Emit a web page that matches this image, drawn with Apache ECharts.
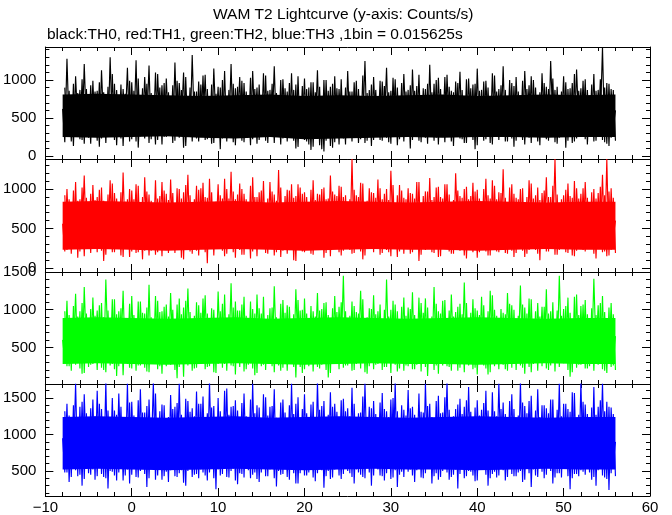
<!DOCTYPE html>
<html>
<head>
<meta charset="utf-8">
<script src="https://cdn.jsdelivr.net/npm/echarts@6/dist/echarts.min.js"></script>
<style>html,body{margin:0;padding:0;background:#fff}#c{width:672px;height:515px}</style>
</head>
<body>
<div id="c"></div>
<script>
// Spike envelope A: one value every 0.25 s starting at -8 s (alternating local max / local min)
const T_START = -8;
const T_STEP = 0.25;
// Spike envelope B: same spacing, starting at -7.75 s (interleaves with A)
const T_START_B = -7.75;
// Dense core of each lightcurve: one value every 4 s starting at -8 s
const CORE_STEP = 4;

const TH0 = [
620,180,1280,350,760,130,1050,420,870,210,1210,380,700,160,990,280,
860,120,1130,400,720,250,1300,310,950,140,780,230,880,450,1160,190,
970,330,1260,110,740,280,1040,410,1190,220,690,150,1080,360,930,250,
1020,400,790,170,1230,290,960,440,1100,130,750,270,1330,340,850,190,
940,380,1070,220,710,160,1150,420,910,90,1000,280,770,330,1210,180,
890,430,1040,200,960,300,730,140,1120,390,900,210,680,290,1060,170,
870,360,1180,280,750,150,1010,410,850,240,1090,200,940,120,790,380,
1020,190,900,80,970,350,1130,140,760,60,1000,300,910,110,1050,240,
880,410,760,150,1120,340,850,290,990,170,720,390,1250,200,870,130,
1040,360,740,210,980,430,1160,180,860,340,1010,140,700,280,1080,400,
870,100,1140,360,920,200,780,420,880,160,1200,310,950,240,1030,380,
760,180,1070,350,860,130,980,420,1110,220,730,170,1020,390,940,90,
1150,340,870,200,990,410,720,150,1060,300,880,270,1180,190,770,400,
960,120,1040,360,710,210,1120,420,930,170,1000,330,780,140,1090,380,
910,200,1250,430,870,160,750,370,1050,110,880,350,960,190,1140,410,
890,300,1010,150,740,360,1080,200,870,440,1430,180,960,130,880,360,
600];
const TH0_B = [
900,250,860,190,950,270,830,220,1010,160,880,240,930,280,850,200,
970,230,840,170,910,260,1080,210,870,250,940,130,820,280,990,220,
860,190,1020,260,890,230,950,170,830,280,1100,210,900,150,960,250,
840,270,930,200,990,240,870,110,1040,260,900,190,850,230,980,280,
1060,210,880,250,940,170,820,280,900,230,1120,190,870,260,950,140,
910,240,990,180,850,270,1030,220,880,160,940,250,1090,200,860,280,
950,170,830,260,1000,230,890,190,960,280,870,100,1050,240,920,210,
880,150,970,120,840,240,910,90,1000,200,860,130,950,180,890,150,
1010,230,900,260,850,190,970,280,880,220,1060,170,830,250,940,210,
870,280,990,200,920,240,840,160,1030,270,900,220,960,190,850,250,
930,210,860,270,1070,180,890,240,950,290,840,200,1000,150,880,260,
1040,250,910,190,840,280,960,230,870,170,1010,260,890,210,950,140,
860,280,980,220,900,170,1090,250,850,210,930,270,870,190,1000,230,
920,200,850,260,990,150,880,240,1050,280,900,190,840,250,960,220,
880,260,1020,180,910,240,850,290,970,200,890,170,1080,230,860,270,
990,220,870,250,940,190,860,270,1010,210,900,160,950,240,870,200];

const TH1 = [
560,210,1000,350,760,280,1090,130,870,420,1170,260,700,190,1050,380,
900,240,1020,90,740,370,1110,200,950,410,780,160,1210,330,870,140,
980,400,1060,200,720,110,1150,380,930,220,800,170,880,350,1090,300,
940,190,1120,360,750,230,1000,130,960,390,1180,210,690,420,1040,160,
1010,380,900,60,1130,240,770,410,1060,300,880,150,1000,360,1220,200,
870,330,1070,170,940,400,760,120,1150,250,900,430,980,280,730,180,
1090,360,930,200,1240,140,780,370,990,230,1060,100,910,390,1020,210,
960,350,740,180,1110,300,940,420,1000,130,870,260,1170,400,930,240,
1040,160,900,380,780,230,1380,190,920,410,1080,110,720,270,1010,360,
950,300,1120,170,870,340,1000,200,1230,430,760,140,1050,290,890,380,
1010,180,940,360,1090,90,730,400,970,300,1140,200,900,420,1030,150,
880,370,1060,210,750,180,1200,390,910,240,1000,120,870,410,1080,230,
990,200,780,380,1130,160,880,420,1040,210,960,300,1250,190,740,350,
1060,140,890,370,1000,220,760,180,1110,410,880,230,1020,100,950,390,
1150,210,900,350,1380,170,770,400,920,200,1070,340,890,150,1010,420,
940,230,1090,390,730,270,1000,120,950,350,1180,210,1380,160,1010,380,
600];
const TH1_B = [
920,230,870,180,980,260,850,210,1020,150,890,240,940,270,860,200,
990,220,850,170,930,250,1070,200,880,240,960,140,840,270,1000,210,
870,190,1040,250,900,220,970,160,850,270,1110,200,910,150,980,240,
860,260,950,190,1010,230,880,110,1050,250,920,180,870,220,990,270,
1080,200,890,240,960,160,840,270,920,220,1130,180,880,250,970,130,
930,230,1000,170,870,260,1040,210,900,150,960,240,1100,190,880,270,
970,160,850,250,1020,220,910,180,980,270,890,90,1060,230,940,200,
900,240,990,170,860,230,930,260,1020,190,880,150,970,270,910,200,
1030,220,920,250,870,180,990,270,900,210,1070,160,850,240,960,200,
890,270,1010,190,940,230,860,150,1050,260,920,210,980,180,870,240,
950,200,880,260,1090,170,910,230,970,280,860,190,1020,140,900,250,
1060,240,930,180,860,270,980,220,890,160,1030,250,910,200,970,130,
880,270,1000,210,920,160,1110,240,870,200,950,260,890,180,1020,220,
940,190,870,250,1010,140,900,230,1070,270,920,180,860,240,980,210,
900,250,1040,170,930,230,870,280,990,190,910,160,1100,220,880,260,
1010,210,890,240,960,180,880,260,1030,200,920,150,970,230,890,190];

const TH2 = [
600,330,1120,250,800,420,1210,290,980,150,1300,450,820,270,1160,400,
990,310,1090,200,1400,460,790,280,1140,120,980,440,1250,300,830,230,
1180,370,810,260,1110,440,950,180,1330,300,760,390,1120,250,980,420,
1070,280,1220,450,800,90,1150,310,1030,400,1280,380,840,220,1100,340,
960,430,1190,240,820,370,1000,160,1240,450,1080,280,780,390,1350,250,
1110,320,990,410,1170,210,800,290,1010,130,1200,440,950,270,830,380,
1020,250,1310,430,780,190,1130,370,1060,300,820,240,1270,450,990,160,
1150,340,810,280,980,440,1220,220,1010,410,1100,100,790,350,1180,290,
1040,430,1450,260,800,380,1110,200,970,440,1250,290,830,150,1020,360,
1190,270,980,430,810,240,1400,380,1000,300,1070,180,770,450,1160,260,
1030,340,1230,210,820,370,1090,440,1150,120,800,330,1300,260,980,420,
1120,300,790,240,1200,450,970,190,1080,330,1360,280,810,360,1140,230,
990,370,1170,260,830,140,1250,420,1000,290,780,380,960,210,1220,440,
1060,280,810,450,1320,230,1030,300,1150,170,800,360,1090,410,1040,330,
1270,200,980,380,820,290,1450,440,1010,350,1160,110,790,320,1200,270,
1050,340,1130,220,800,370,1410,450,1060,300,1180,190,820,350,1090,260,
650];
const TH2_B = [
980,250,930,190,1050,270,910,220,1090,160,950,240,1010,280,920,200,
1060,230,900,170,990,260,1140,210,940,250,1020,130,890,280,1080,220,
930,190,1110,260,960,230,1030,170,900,280,1180,210,970,150,1040,250,
910,270,1000,200,1070,240,940,110,1120,260,970,190,920,230,1060,280,
1150,210,950,250,1020,170,890,280,980,230,1200,190,940,260,1030,140,
990,240,1070,180,920,270,1110,220,950,160,1020,250,1170,200,930,280,
1030,170,900,260,1080,230,960,190,1040,280,940,100,1130,240,1000,210,
950,250,1050,180,910,240,990,270,1090,200,930,160,1020,280,970,210,
1100,230,980,260,920,190,1050,280,950,220,1140,170,900,250,1010,210,
940,280,1070,200,1000,240,910,160,1120,270,980,220,1040,190,920,250,
1010,210,930,270,1160,180,960,240,1030,290,910,200,1080,150,950,260,
1130,250,990,190,910,280,1040,230,940,170,1090,260,960,210,1020,140,
930,280,1060,220,980,170,1190,250,920,210,1010,270,940,190,1080,230,
1000,200,920,260,1070,150,950,240,1140,280,980,190,910,250,1040,220,
950,260,1100,180,990,240,920,290,1050,200,960,170,1170,230,930,270,
1070,220,940,250,1020,190,930,270,1090,210,970,160,1030,240,940,200];

const TH3 = [
950,480,1420,350,1150,620,1700,430,1380,300,1550,600,1120,450,1480,380,
1600,610,1350,420,1720,260,1160,490,1330,370,1560,630,1100,440,1700,330,
1450,600,1140,410,1620,540,1300,280,1480,640,1720,380,1170,520,1410,430,
1120,350,1540,620,1380,420,1700,510,1150,300,1460,600,1360,450,1590,400,
1420,480,1130,370,1720,620,1390,250,1500,440,1160,600,1630,410,1380,530,
1470,320,1150,460,1560,610,1100,400,1700,480,1400,350,1130,640,1510,430,
1380,600,1620,290,1140,450,1480,620,1170,380,1700,470,1420,330,1160,610,
1550,440,1120,520,1450,360,1720,600,1390,270,1150,500,1580,410,1420,630,
1130,390,1490,610,1360,470,1640,330,1170,480,1300,420,1700,620,1380,300,
1460,600,1150,440,1570,370,1320,630,1480,410,1720,280,1140,490,1340,610,
1610,520,1380,350,1160,600,1310,400,1700,620,1420,330,1130,470,1530,420,
1300,600,1720,380,1150,450,1350,260,1490,620,1380,430,1650,490,1120,360,
1470,610,1340,530,1600,300,1170,460,1320,410,1700,600,1440,370,1140,620,
1550,430,1160,480,1720,350,1390,610,1460,280,1130,440,1620,600,1400,400,
1360,620,1480,330,1150,470,1700,410,1420,600,1350,250,1580,460,1120,430,
1720,490,1410,610,1140,380,1650,300,1380,620,1700,410,1450,240,1370,600,
900];
const TH3_B = [
1320,480,1260,420,1400,510,1240,450,1450,390,1290,470,1360,520,1250,430,
1420,460,1230,400,1330,500,1500,440,1270,480,1380,370,1220,520,1440,450,
1260,420,1470,500,1300,460,1390,400,1230,520,1560,440,1320,380,1400,490,
1240,510,1350,430,1430,470,1270,340,1490,500,1310,420,1250,460,1420,520,
1520,440,1290,480,1370,400,1220,520,1320,460,1600,420,1270,500,1390,370,
1330,470,1430,410,1250,510,1480,450,1290,390,1370,480,1550,430,1260,520,
1390,400,1230,500,1440,460,1300,420,1400,520,1280,330,1510,470,1350,440,
1290,480,1410,410,1240,470,1340,510,1460,430,1270,390,1380,520,1310,440,
1470,460,1320,500,1250,420,1420,520,1290,450,1520,400,1230,480,1360,440,
1280,520,1440,430,1350,470,1240,390,1500,510,1320,450,1400,420,1260,490,
1360,440,1270,510,1560,410,1300,470,1390,530,1240,430,1460,380,1290,500,
1510,480,1340,420,1250,520,1410,460,1280,400,1470,500,1310,440,1370,370,
1260,520,1430,450,1330,400,1580,490,1250,440,1350,510,1280,420,1460,460,
1350,430,1260,500,1440,380,1290,470,1530,520,1330,420,1240,490,1400,450,
1290,500,1480,410,1340,470,1250,530,1420,430,1310,400,1570,460,1270,510,
1450,450,1280,480,1370,420,1270,510,1470,440,1320,390,1380,470,1280,430];

// dense-core lower / upper edges (every 4 s, -8 .. 56 s)
const CORE_LO_TH0 = [250,240,250,260,240,230,250,220,230,240,250,240,250,250,240,250,250];
const CORE_HI_TH0 = [810,820,810,800,790,800,810,790,800,790,800,810,790,800,810,800,810];
const CORE_LO_TH1 = [230,240,230,220,230,240,230,220,230,240,230,230,220,230,240,230,230];
const CORE_HI_TH1 = [840,850,840,830,840,850,830,840,850,840,830,840,850,840,830,840,840];
const CORE_LO_TH2 = [280,290,280,270,280,290,280,270,280,290,280,280,270,280,290,280,280];
const CORE_HI_TH2 = [890,900,890,880,890,900,880,890,900,890,880,890,900,890,880,890,890];
const CORE_LO_TH3 = [520,530,520,510,520,530,520,510,520,530,520,520,510,520,530,520,520];
const CORE_HI_TH3 = [1240,1250,1240,1230,1240,1250,1230,1240,1250,1240,1230,1240,1250,1240,1230,1240,1240];

const SERIES_NAMES = ['TH0', 'TH1', 'TH2', 'TH3'];
const SERIES_VALUES = [TH0, TH1, TH2, TH3];
const SERIES_VALUES_B = [TH0_B, TH1_B, TH2_B, TH3_B];
const CORE_LO = [CORE_LO_TH0, CORE_LO_TH1, CORE_LO_TH2, CORE_LO_TH3];
const CORE_HI = [CORE_HI_TH0, CORE_HI_TH1, CORE_HI_TH2, CORE_HI_TH3];

const X_MIN = -10, X_MAX = 60, X_INTERVAL = 10;

const Y_RANGES = [[-40, 1435], [-50, 1380], [15, 1500], [158, 1692]];
const Y_MAJOR = [[0, 500, 1000], [0, 500, 1000], [500, 1000, 1500], [500, 1000, 1500]];
const Y_MINOR = [
  [0,100,200,300,400,500,600,700,800,900,1000,1100,1200,1300,1400],
  [0,100,200,300,400,500,600,700,800,900,1000,1100,1200,1300],
  [100,200,300,400,500,600,700,800,900,1000,1100,1200,1300,1400,1500],
  [200,300,400,500,600,700,800,900,1000,1100,1200,1300,1400,1500,1600]
];

const TITLE = 'WAM T2 Lightcurve (y-axis: Counts/s)';
const SUBTITLE = 'black:TH0, red:TH1, green:TH2, blue:TH3 ,1bin = 0.015625s';

// ---------- style / layout ----------
const COLORS = ['#000000', '#ff0000', '#00ff00', '#0000ff'];
const FONT = '"Liberation Sans", Arial, Helvetica, sans-serif';
const GRID_TOPS = [47, 159, 272, 384];
const GRID_HEIGHTS = [112, 113, 112, 112];

const chart = echarts.init(document.getElementById('c'), null, {renderer: 'canvas'});

const grids = [], xAxes = [], yAxes = [], series = [];
const black = {color: '#000', width: 1};

for (let g = 0; g < 4; g++) {
  grids.push({left: 45, right: 22, top: GRID_TOPS[g], height: GRID_HEIGHTS[g], containLabel: false});
  ['bottom', 'top'].forEach(pos => {
    xAxes.push({
      gridIndex: g, type: 'value', position: pos, min: X_MIN, max: X_MAX, interval: X_INTERVAL,
      axisLine: {show: true, onZero: false, lineStyle: black},
      axisTick: {show: true, inside: true, length: 8, lineStyle: black},
      minorTick: {show: true, splitNumber: 5, length: 4, lineStyle: black},
      splitLine: {show: false}, minorSplitLine: {show: false},
      axisLabel: {
        show: pos === 'bottom' && g === 3, color: '#000', fontSize: 15, fontFamily: FONT, margin: 4,
        formatter: v => (v < 0 ? '\u2212' + Math.abs(v) : String(v))
      }
    });
  });
  ['left', 'right'].forEach(pos => {
    yAxes.push({
      gridIndex: g, type: 'value', position: pos, min: Y_RANGES[g][0], max: Y_RANGES[g][1],
      axisLine: {show: true, onZero: false, lineStyle: black},
      axisTick: {show: true, inside: true, length: 8, customValues: Y_MAJOR[g], lineStyle: black},
      axisLabel: {show: pos === 'left', customValues: Y_MAJOR[g], color: '#000', fontSize: 15,
                  fontFamily: FONT, margin: 9, formatter: v => String(v)},
      splitLine: {show: false}
    });
    yAxes.push({
      gridIndex: g, type: 'value', position: pos, min: Y_RANGES[g][0], max: Y_RANGES[g][1],
      axisLine: {show: false, onZero: false},
      axisTick: {show: true, inside: true, length: 4, customValues: Y_MINOR[g], lineStyle: black},
      axisLabel: {show: false},
      splitLine: {show: false}
    });
  });
  // dense core of the light curve: one polygon through its lower edge and back along its upper edge
  const lo = CORE_LO[g], hi = CORE_HI[g];
  const col = COLORS[g];
  series.push({
    type: 'custom', xAxisIndex: g * 2, yAxisIndex: g * 4, silent: true, z: 1,
    data: [[T_START, lo[0]]],
    renderItem: (params, api) => {
      const pts = [];
      for (let i = 0; i < lo.length; i++) pts.push(api.coord([T_START + i * CORE_STEP, lo[i]]));
      for (let i = hi.length - 1; i >= 0; i--) pts.push(api.coord([T_START + i * CORE_STEP, hi[i]]));
      return {type: 'polygon', shape: {points: pts}, style: {fill: col}};
    }
  });
  series.push({
    name: SERIES_NAMES[g], type: 'line', xAxisIndex: g * 2, yAxisIndex: g * 4,
    data: SERIES_VALUES[g].map((v, i) => [T_START + i * T_STEP, v]),
    showSymbol: false, symbol: 'none', clip: true,
    lineStyle: {color: col, width: 1.15}, z: 2
  });
  series.push({
    name: SERIES_NAMES[g] + ' b', type: 'line', xAxisIndex: g * 2, yAxisIndex: g * 4,
    data: SERIES_VALUES_B[g].map((v, i) => [T_START_B + i * T_STEP, v]),
    showSymbol: false, symbol: 'none', clip: true,
    lineStyle: {color: col, width: 1.15}, z: 2
  });
}

chart.setOption({
  backgroundColor: '#ffffff',
  animation: false,
  grid: grids, xAxis: xAxes, yAxis: yAxes, series: series,
  graphic: [
    {type: 'text', left: 213, top: 7, style: {text: TITLE, font: '15.5px ' + FONT, fill: '#000'}},
    {type: 'text', left: 47, top: 27, style: {text: SUBTITLE, font: '15.5px ' + FONT, fill: '#000'}}
  ]
});
</script>
</body>
</html>
